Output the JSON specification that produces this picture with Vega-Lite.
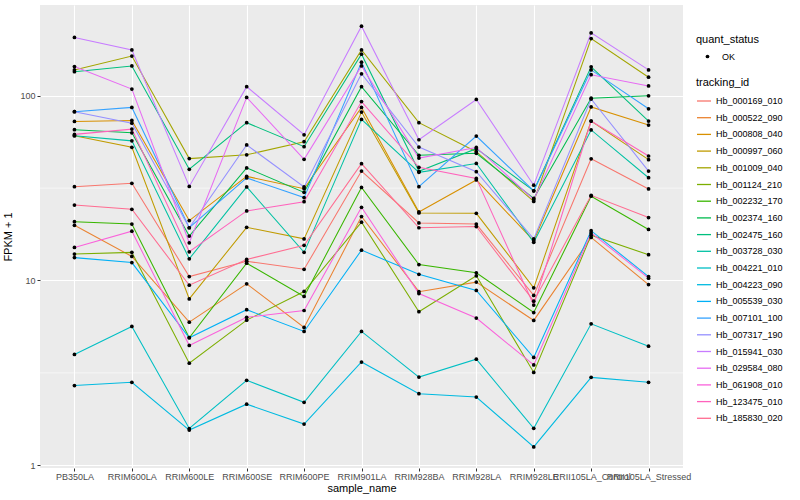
{
  "$schema": "https://vega.github.io/schema/vega-lite/v6.json",
  "width": 643,
  "height": 463,
  "autosize": {"type": "none"},
  "padding": {"left": 40, "top": 5, "right": 117, "bottom": 32},
  "background": "white",
  "datasets": {
    "minor": [{"y": 3.1623}, {"y": 31.623}],
    "expr": [
{"tracking_id":"Hb_000169_010","sample_name":"PB350LA","fpkm":32.2,"quant_status":"OK"},
{"tracking_id":"Hb_000169_010","sample_name":"RRIM600LA","fpkm":33.6,"quant_status":"OK"},
{"tracking_id":"Hb_000169_010","sample_name":"RRIM600LE","fpkm":10.5,"quant_status":"OK"},
{"tracking_id":"Hb_000169_010","sample_name":"RRIM600SE","fpkm":12.7,"quant_status":"OK"},
{"tracking_id":"Hb_000169_010","sample_name":"RRIM600PE","fpkm":11.5,"quant_status":"OK"},
{"tracking_id":"Hb_000169_010","sample_name":"RRIM901LA","fpkm":39.1,"quant_status":"OK"},
{"tracking_id":"Hb_000169_010","sample_name":"RRIM928BA","fpkm":20.5,"quant_status":"OK"},
{"tracking_id":"Hb_000169_010","sample_name":"RRIM928LA","fpkm":20.2,"quant_status":"OK"},
{"tracking_id":"Hb_000169_010","sample_name":"RRIM928LE","fpkm":8.3,"quant_status":"OK"},
{"tracking_id":"Hb_000169_010","sample_name":"RRII105LA_Control","fpkm":45.6,"quant_status":"OK"},
{"tracking_id":"Hb_000169_010","sample_name":"RRII105LA_Stressed","fpkm":31.3,"quant_status":"OK"},
{"tracking_id":"Hb_000522_090","sample_name":"PB350LA","fpkm":19.9,"quant_status":"OK"},
{"tracking_id":"Hb_000522_090","sample_name":"RRIM600LA","fpkm":13.5,"quant_status":"OK"},
{"tracking_id":"Hb_000522_090","sample_name":"RRIM600LE","fpkm":5.95,"quant_status":"OK"},
{"tracking_id":"Hb_000522_090","sample_name":"RRIM600SE","fpkm":9.6,"quant_status":"OK"},
{"tracking_id":"Hb_000522_090","sample_name":"RRIM600PE","fpkm":5.57,"quant_status":"OK"},
{"tracking_id":"Hb_000522_090","sample_name":"RRIM901LA","fpkm":22.2,"quant_status":"OK"},
{"tracking_id":"Hb_000522_090","sample_name":"RRIM928BA","fpkm":8.7,"quant_status":"OK"},
{"tracking_id":"Hb_000522_090","sample_name":"RRIM928LA","fpkm":9.8,"quant_status":"OK"},
{"tracking_id":"Hb_000522_090","sample_name":"RRIM928LE","fpkm":6.08,"quant_status":"OK"},
{"tracking_id":"Hb_000522_090","sample_name":"RRII105LA_Control","fpkm":17.1,"quant_status":"OK"},
{"tracking_id":"Hb_000522_090","sample_name":"RRII105LA_Stressed","fpkm":9.5,"quant_status":"OK"},
{"tracking_id":"Hb_000808_040","sample_name":"PB350LA","fpkm":72.6,"quant_status":"OK"},
{"tracking_id":"Hb_000808_040","sample_name":"RRIM600LA","fpkm":73.5,"quant_status":"OK"},
{"tracking_id":"Hb_000808_040","sample_name":"RRIM600LE","fpkm":21.1,"quant_status":"OK"},
{"tracking_id":"Hb_000808_040","sample_name":"RRIM600SE","fpkm":36.6,"quant_status":"OK"},
{"tracking_id":"Hb_000808_040","sample_name":"RRIM600PE","fpkm":31.4,"quant_status":"OK"},
{"tracking_id":"Hb_000808_040","sample_name":"RRIM901LA","fpkm":86.5,"quant_status":"OK"},
{"tracking_id":"Hb_000808_040","sample_name":"RRIM928BA","fpkm":23.5,"quant_status":"OK"},
{"tracking_id":"Hb_000808_040","sample_name":"RRIM928LA","fpkm":35,"quant_status":"OK"},
{"tracking_id":"Hb_000808_040","sample_name":"RRIM928LE","fpkm":16.4,"quant_status":"OK"},
{"tracking_id":"Hb_000808_040","sample_name":"RRII105LA_Control","fpkm":87,"quant_status":"OK"},
{"tracking_id":"Hb_000808_040","sample_name":"RRII105LA_Stressed","fpkm":69.4,"quant_status":"OK"},
{"tracking_id":"Hb_000997_060","sample_name":"PB350LA","fpkm":60.8,"quant_status":"OK"},
{"tracking_id":"Hb_000997_060","sample_name":"RRIM600LA","fpkm":52.6,"quant_status":"OK"},
{"tracking_id":"Hb_000997_060","sample_name":"RRIM600LE","fpkm":7.95,"quant_status":"OK"},
{"tracking_id":"Hb_000997_060","sample_name":"RRIM600SE","fpkm":19.4,"quant_status":"OK"},
{"tracking_id":"Hb_000997_060","sample_name":"RRIM600PE","fpkm":16.8,"quant_status":"OK"},
{"tracking_id":"Hb_000997_060","sample_name":"RRIM901LA","fpkm":81.6,"quant_status":"OK"},
{"tracking_id":"Hb_000997_060","sample_name":"RRIM928BA","fpkm":23.2,"quant_status":"OK"},
{"tracking_id":"Hb_000997_060","sample_name":"RRIM928LA","fpkm":23.1,"quant_status":"OK"},
{"tracking_id":"Hb_000997_060","sample_name":"RRIM928LE","fpkm":9.13,"quant_status":"OK"},
{"tracking_id":"Hb_000997_060","sample_name":"RRII105LA_Control","fpkm":73,"quant_status":"OK"},
{"tracking_id":"Hb_000997_060","sample_name":"RRII105LA_Stressed","fpkm":45.1,"quant_status":"OK"},
{"tracking_id":"Hb_001009_040","sample_name":"PB350LA","fpkm":138,"quant_status":"OK"},
{"tracking_id":"Hb_001009_040","sample_name":"RRIM600LA","fpkm":164,"quant_status":"OK"},
{"tracking_id":"Hb_001009_040","sample_name":"RRIM600LE","fpkm":45.7,"quant_status":"OK"},
{"tracking_id":"Hb_001009_040","sample_name":"RRIM600SE","fpkm":47.9,"quant_status":"OK"},
{"tracking_id":"Hb_001009_040","sample_name":"RRIM600PE","fpkm":56.4,"quant_status":"OK"},
{"tracking_id":"Hb_001009_040","sample_name":"RRIM901LA","fpkm":177,"quant_status":"OK"},
{"tracking_id":"Hb_001009_040","sample_name":"RRIM928BA","fpkm":71.5,"quant_status":"OK"},
{"tracking_id":"Hb_001009_040","sample_name":"RRIM928LA","fpkm":49.8,"quant_status":"OK"},
{"tracking_id":"Hb_001009_040","sample_name":"RRIM928LE","fpkm":26.8,"quant_status":"OK"},
{"tracking_id":"Hb_001009_040","sample_name":"RRII105LA_Control","fpkm":204,"quant_status":"OK"},
{"tracking_id":"Hb_001009_040","sample_name":"RRII105LA_Stressed","fpkm":126,"quant_status":"OK"},
{"tracking_id":"Hb_001124_210","sample_name":"PB350LA","fpkm":13.9,"quant_status":"OK"},
{"tracking_id":"Hb_001124_210","sample_name":"RRIM600LA","fpkm":14.2,"quant_status":"OK"},
{"tracking_id":"Hb_001124_210","sample_name":"RRIM600LE","fpkm":3.57,"quant_status":"OK"},
{"tracking_id":"Hb_001124_210","sample_name":"RRIM600SE","fpkm":6.1,"quant_status":"OK"},
{"tracking_id":"Hb_001124_210","sample_name":"RRIM600PE","fpkm":8.72,"quant_status":"OK"},
{"tracking_id":"Hb_001124_210","sample_name":"RRIM901LA","fpkm":20.7,"quant_status":"OK"},
{"tracking_id":"Hb_001124_210","sample_name":"RRIM928BA","fpkm":6.78,"quant_status":"OK"},
{"tracking_id":"Hb_001124_210","sample_name":"RRIM928LA","fpkm":10.6,"quant_status":"OK"},
{"tracking_id":"Hb_001124_210","sample_name":"RRIM928LE","fpkm":3.18,"quant_status":"OK"},
{"tracking_id":"Hb_001124_210","sample_name":"RRII105LA_Control","fpkm":17.6,"quant_status":"OK"},
{"tracking_id":"Hb_001124_210","sample_name":"RRII105LA_Stressed","fpkm":13.8,"quant_status":"OK"},
{"tracking_id":"Hb_002232_170","sample_name":"PB350LA","fpkm":20.8,"quant_status":"OK"},
{"tracking_id":"Hb_002232_170","sample_name":"RRIM600LA","fpkm":20.2,"quant_status":"OK"},
{"tracking_id":"Hb_002232_170","sample_name":"RRIM600LE","fpkm":4.9,"quant_status":"OK"},
{"tracking_id":"Hb_002232_170","sample_name":"RRIM600SE","fpkm":12.4,"quant_status":"OK"},
{"tracking_id":"Hb_002232_170","sample_name":"RRIM600PE","fpkm":8.2,"quant_status":"OK"},
{"tracking_id":"Hb_002232_170","sample_name":"RRIM901LA","fpkm":31.9,"quant_status":"OK"},
{"tracking_id":"Hb_002232_170","sample_name":"RRIM928BA","fpkm":12.2,"quant_status":"OK"},
{"tracking_id":"Hb_002232_170","sample_name":"RRIM928LA","fpkm":11.0,"quant_status":"OK"},
{"tracking_id":"Hb_002232_170","sample_name":"RRIM928LE","fpkm":6.71,"quant_status":"OK"},
{"tracking_id":"Hb_002232_170","sample_name":"RRII105LA_Control","fpkm":28.6,"quant_status":"OK"},
{"tracking_id":"Hb_002232_170","sample_name":"RRII105LA_Stressed","fpkm":18.9,"quant_status":"OK"},
{"tracking_id":"Hb_002374_160","sample_name":"PB350LA","fpkm":65.5,"quant_status":"OK"},
{"tracking_id":"Hb_002374_160","sample_name":"RRIM600LA","fpkm":63,"quant_status":"OK"},
{"tracking_id":"Hb_002374_160","sample_name":"RRIM600LE","fpkm":17.4,"quant_status":"OK"},
{"tracking_id":"Hb_002374_160","sample_name":"RRIM600SE","fpkm":40.7,"quant_status":"OK"},
{"tracking_id":"Hb_002374_160","sample_name":"RRIM600PE","fpkm":30,"quant_status":"OK"},
{"tracking_id":"Hb_002374_160","sample_name":"RRIM901LA","fpkm":112,"quant_status":"OK"},
{"tracking_id":"Hb_002374_160","sample_name":"RRIM928BA","fpkm":47.6,"quant_status":"OK"},
{"tracking_id":"Hb_002374_160","sample_name":"RRIM928LA","fpkm":48.8,"quant_status":"OK"},
{"tracking_id":"Hb_002374_160","sample_name":"RRIM928LE","fpkm":27.8,"quant_status":"OK"},
{"tracking_id":"Hb_002374_160","sample_name":"RRII105LA_Control","fpkm":97,"quant_status":"OK"},
{"tracking_id":"Hb_002374_160","sample_name":"RRII105LA_Stressed","fpkm":100,"quant_status":"OK"},
{"tracking_id":"Hb_002475_160","sample_name":"PB350LA","fpkm":135,"quant_status":"OK"},
{"tracking_id":"Hb_002475_160","sample_name":"RRIM600LA","fpkm":145,"quant_status":"OK"},
{"tracking_id":"Hb_002475_160","sample_name":"RRIM600LE","fpkm":40,"quant_status":"OK"},
{"tracking_id":"Hb_002475_160","sample_name":"RRIM600SE","fpkm":71.5,"quant_status":"OK"},
{"tracking_id":"Hb_002475_160","sample_name":"RRIM600PE","fpkm":53,"quant_status":"OK"},
{"tracking_id":"Hb_002475_160","sample_name":"RRIM901LA","fpkm":168,"quant_status":"OK"},
{"tracking_id":"Hb_002475_160","sample_name":"RRIM928BA","fpkm":39,"quant_status":"OK"},
{"tracking_id":"Hb_002475_160","sample_name":"RRIM928LA","fpkm":51.7,"quant_status":"OK"},
{"tracking_id":"Hb_002475_160","sample_name":"RRIM928LE","fpkm":30.6,"quant_status":"OK"},
{"tracking_id":"Hb_002475_160","sample_name":"RRII105LA_Control","fpkm":143.5,"quant_status":"OK"},
{"tracking_id":"Hb_002475_160","sample_name":"RRII105LA_Stressed","fpkm":73,"quant_status":"OK"},
{"tracking_id":"Hb_003728_030","sample_name":"PB350LA","fpkm":60.8,"quant_status":"OK"},
{"tracking_id":"Hb_003728_030","sample_name":"RRIM600LA","fpkm":57,"quant_status":"OK"},
{"tracking_id":"Hb_003728_030","sample_name":"RRIM600LE","fpkm":13.1,"quant_status":"OK"},
{"tracking_id":"Hb_003728_030","sample_name":"RRIM600SE","fpkm":32.1,"quant_status":"OK"},
{"tracking_id":"Hb_003728_030","sample_name":"RRIM600PE","fpkm":14.2,"quant_status":"OK"},
{"tracking_id":"Hb_003728_030","sample_name":"RRIM901LA","fpkm":74.5,"quant_status":"OK"},
{"tracking_id":"Hb_003728_030","sample_name":"RRIM928BA","fpkm":38.5,"quant_status":"OK"},
{"tracking_id":"Hb_003728_030","sample_name":"RRIM928LA","fpkm":43,"quant_status":"OK"},
{"tracking_id":"Hb_003728_030","sample_name":"RRIM928LE","fpkm":16.1,"quant_status":"OK"},
{"tracking_id":"Hb_003728_030","sample_name":"RRII105LA_Control","fpkm":65.3,"quant_status":"OK"},
{"tracking_id":"Hb_003728_030","sample_name":"RRII105LA_Stressed","fpkm":36,"quant_status":"OK"},
{"tracking_id":"Hb_004221_010","sample_name":"PB350LA","fpkm":3.98,"quant_status":"OK"},
{"tracking_id":"Hb_004221_010","sample_name":"RRIM600LA","fpkm":5.64,"quant_status":"OK"},
{"tracking_id":"Hb_004221_010","sample_name":"RRIM600LE","fpkm":1.58,"quant_status":"OK"},
{"tracking_id":"Hb_004221_010","sample_name":"RRIM600SE","fpkm":2.88,"quant_status":"OK"},
{"tracking_id":"Hb_004221_010","sample_name":"RRIM600PE","fpkm":2.19,"quant_status":"OK"},
{"tracking_id":"Hb_004221_010","sample_name":"RRIM901LA","fpkm":5.3,"quant_status":"OK"},
{"tracking_id":"Hb_004221_010","sample_name":"RRIM928BA","fpkm":3.0,"quant_status":"OK"},
{"tracking_id":"Hb_004221_010","sample_name":"RRIM928LA","fpkm":3.75,"quant_status":"OK"},
{"tracking_id":"Hb_004221_010","sample_name":"RRIM928LE","fpkm":1.585,"quant_status":"OK"},
{"tracking_id":"Hb_004221_010","sample_name":"RRII105LA_Control","fpkm":5.83,"quant_status":"OK"},
{"tracking_id":"Hb_004221_010","sample_name":"RRII105LA_Stressed","fpkm":4.41,"quant_status":"OK"},
{"tracking_id":"Hb_004223_090","sample_name":"PB350LA","fpkm":2.7,"quant_status":"OK"},
{"tracking_id":"Hb_004223_090","sample_name":"RRIM600LA","fpkm":2.81,"quant_status":"OK"},
{"tracking_id":"Hb_004223_090","sample_name":"RRIM600LE","fpkm":1.55,"quant_status":"OK"},
{"tracking_id":"Hb_004223_090","sample_name":"RRIM600SE","fpkm":2.14,"quant_status":"OK"},
{"tracking_id":"Hb_004223_090","sample_name":"RRIM600PE","fpkm":1.67,"quant_status":"OK"},
{"tracking_id":"Hb_004223_090","sample_name":"RRIM901LA","fpkm":3.62,"quant_status":"OK"},
{"tracking_id":"Hb_004223_090","sample_name":"RRIM928BA","fpkm":2.44,"quant_status":"OK"},
{"tracking_id":"Hb_004223_090","sample_name":"RRIM928LA","fpkm":2.34,"quant_status":"OK"},
{"tracking_id":"Hb_004223_090","sample_name":"RRIM928LE","fpkm":1.256,"quant_status":"OK"},
{"tracking_id":"Hb_004223_090","sample_name":"RRII105LA_Control","fpkm":2.99,"quant_status":"OK"},
{"tracking_id":"Hb_004223_090","sample_name":"RRII105LA_Stressed","fpkm":2.81,"quant_status":"OK"},
{"tracking_id":"Hb_005539_030","sample_name":"PB350LA","fpkm":13.3,"quant_status":"OK"},
{"tracking_id":"Hb_005539_030","sample_name":"RRIM600LA","fpkm":12.5,"quant_status":"OK"},
{"tracking_id":"Hb_005539_030","sample_name":"RRIM600LE","fpkm":4.9,"quant_status":"OK"},
{"tracking_id":"Hb_005539_030","sample_name":"RRIM600SE","fpkm":6.95,"quant_status":"OK"},
{"tracking_id":"Hb_005539_030","sample_name":"RRIM600PE","fpkm":5.3,"quant_status":"OK"},
{"tracking_id":"Hb_005539_030","sample_name":"RRIM901LA","fpkm":14.6,"quant_status":"OK"},
{"tracking_id":"Hb_005539_030","sample_name":"RRIM928BA","fpkm":10.8,"quant_status":"OK"},
{"tracking_id":"Hb_005539_030","sample_name":"RRIM928LA","fpkm":8.83,"quant_status":"OK"},
{"tracking_id":"Hb_005539_030","sample_name":"RRIM928LE","fpkm":3.83,"quant_status":"OK"},
{"tracking_id":"Hb_005539_030","sample_name":"RRII105LA_Control","fpkm":18.6,"quant_status":"OK"},
{"tracking_id":"Hb_005539_030","sample_name":"RRII105LA_Stressed","fpkm":10.5,"quant_status":"OK"},
{"tracking_id":"Hb_007101_100","sample_name":"PB350LA","fpkm":82,"quant_status":"OK"},
{"tracking_id":"Hb_007101_100","sample_name":"RRIM600LA","fpkm":86.5,"quant_status":"OK"},
{"tracking_id":"Hb_007101_100","sample_name":"RRIM600LE","fpkm":19.3,"quant_status":"OK"},
{"tracking_id":"Hb_007101_100","sample_name":"RRIM600SE","fpkm":35.9,"quant_status":"OK"},
{"tracking_id":"Hb_007101_100","sample_name":"RRIM600PE","fpkm":28.1,"quant_status":"OK"},
{"tracking_id":"Hb_007101_100","sample_name":"RRIM901LA","fpkm":152,"quant_status":"OK"},
{"tracking_id":"Hb_007101_100","sample_name":"RRIM928BA","fpkm":32.2,"quant_status":"OK"},
{"tracking_id":"Hb_007101_100","sample_name":"RRIM928LA","fpkm":60.5,"quant_status":"OK"},
{"tracking_id":"Hb_007101_100","sample_name":"RRIM928LE","fpkm":30.6,"quant_status":"OK"},
{"tracking_id":"Hb_007101_100","sample_name":"RRII105LA_Control","fpkm":138,"quant_status":"OK"},
{"tracking_id":"Hb_007101_100","sample_name":"RRII105LA_Stressed","fpkm":85,"quant_status":"OK"},
{"tracking_id":"Hb_007317_190","sample_name":"PB350LA","fpkm":82,"quant_status":"OK"},
{"tracking_id":"Hb_007317_190","sample_name":"RRIM600LA","fpkm":71,"quant_status":"OK"},
{"tracking_id":"Hb_007317_190","sample_name":"RRIM600LE","fpkm":19.3,"quant_status":"OK"},
{"tracking_id":"Hb_007317_190","sample_name":"RRIM600SE","fpkm":54.2,"quant_status":"OK"},
{"tracking_id":"Hb_007317_190","sample_name":"RRIM600PE","fpkm":32.1,"quant_status":"OK"},
{"tracking_id":"Hb_007317_190","sample_name":"RRIM901LA","fpkm":131.5,"quant_status":"OK"},
{"tracking_id":"Hb_007317_190","sample_name":"RRIM928BA","fpkm":52.8,"quant_status":"OK"},
{"tracking_id":"Hb_007317_190","sample_name":"RRIM928LA","fpkm":38.8,"quant_status":"OK"},
{"tracking_id":"Hb_007317_190","sample_name":"RRIM928LE","fpkm":16.8,"quant_status":"OK"},
{"tracking_id":"Hb_007317_190","sample_name":"RRII105LA_Control","fpkm":96,"quant_status":"OK"},
{"tracking_id":"Hb_007317_190","sample_name":"RRII105LA_Stressed","fpkm":39.1,"quant_status":"OK"},
{"tracking_id":"Hb_015941_030","sample_name":"PB350LA","fpkm":207,"quant_status":"OK"},
{"tracking_id":"Hb_015941_030","sample_name":"RRIM600LA","fpkm":177,"quant_status":"OK"},
{"tracking_id":"Hb_015941_030","sample_name":"RRIM600LE","fpkm":32.3,"quant_status":"OK"},
{"tracking_id":"Hb_015941_030","sample_name":"RRIM600SE","fpkm":112,"quant_status":"OK"},
{"tracking_id":"Hb_015941_030","sample_name":"RRIM600PE","fpkm":61.5,"quant_status":"OK"},
{"tracking_id":"Hb_015941_030","sample_name":"RRIM901LA","fpkm":238,"quant_status":"OK"},
{"tracking_id":"Hb_015941_030","sample_name":"RRIM928BA","fpkm":57.8,"quant_status":"OK"},
{"tracking_id":"Hb_015941_030","sample_name":"RRIM928LA","fpkm":95.5,"quant_status":"OK"},
{"tracking_id":"Hb_015941_030","sample_name":"RRIM928LE","fpkm":32.8,"quant_status":"OK"},
{"tracking_id":"Hb_015941_030","sample_name":"RRII105LA_Control","fpkm":219,"quant_status":"OK"},
{"tracking_id":"Hb_015941_030","sample_name":"RRII105LA_Stressed","fpkm":138,"quant_status":"OK"},
{"tracking_id":"Hb_029584_080","sample_name":"PB350LA","fpkm":144,"quant_status":"OK"},
{"tracking_id":"Hb_029584_080","sample_name":"RRIM600LA","fpkm":108.7,"quant_status":"OK"},
{"tracking_id":"Hb_029584_080","sample_name":"RRIM600LE","fpkm":16,"quant_status":"OK"},
{"tracking_id":"Hb_029584_080","sample_name":"RRIM600SE","fpkm":98,"quant_status":"OK"},
{"tracking_id":"Hb_029584_080","sample_name":"RRIM600PE","fpkm":45.3,"quant_status":"OK"},
{"tracking_id":"Hb_029584_080","sample_name":"RRIM901LA","fpkm":145,"quant_status":"OK"},
{"tracking_id":"Hb_029584_080","sample_name":"RRIM928BA","fpkm":46,"quant_status":"OK"},
{"tracking_id":"Hb_029584_080","sample_name":"RRIM928LA","fpkm":52.5,"quant_status":"OK"},
{"tracking_id":"Hb_029584_080","sample_name":"RRIM928LE","fpkm":27.4,"quant_status":"OK"},
{"tracking_id":"Hb_029584_080","sample_name":"RRII105LA_Control","fpkm":130,"quant_status":"OK"},
{"tracking_id":"Hb_029584_080","sample_name":"RRII105LA_Stressed","fpkm":113,"quant_status":"OK"},
{"tracking_id":"Hb_061908_010","sample_name":"PB350LA","fpkm":15.1,"quant_status":"OK"},
{"tracking_id":"Hb_061908_010","sample_name":"RRIM600LA","fpkm":18.5,"quant_status":"OK"},
{"tracking_id":"Hb_061908_010","sample_name":"RRIM600LE","fpkm":4.45,"quant_status":"OK"},
{"tracking_id":"Hb_061908_010","sample_name":"RRIM600SE","fpkm":6.32,"quant_status":"OK"},
{"tracking_id":"Hb_061908_010","sample_name":"RRIM600PE","fpkm":6.88,"quant_status":"OK"},
{"tracking_id":"Hb_061908_010","sample_name":"RRIM901LA","fpkm":24.9,"quant_status":"OK"},
{"tracking_id":"Hb_061908_010","sample_name":"RRIM928BA","fpkm":8.5,"quant_status":"OK"},
{"tracking_id":"Hb_061908_010","sample_name":"RRIM928LA","fpkm":6.26,"quant_status":"OK"},
{"tracking_id":"Hb_061908_010","sample_name":"RRIM928LE","fpkm":3.49,"quant_status":"OK"},
{"tracking_id":"Hb_061908_010","sample_name":"RRII105LA_Control","fpkm":18.1,"quant_status":"OK"},
{"tracking_id":"Hb_061908_010","sample_name":"RRII105LA_Stressed","fpkm":10.3,"quant_status":"OK"},
{"tracking_id":"Hb_123475_010","sample_name":"PB350LA","fpkm":61.8,"quant_status":"OK"},
{"tracking_id":"Hb_123475_010","sample_name":"RRIM600LA","fpkm":66,"quant_status":"OK"},
{"tracking_id":"Hb_123475_010","sample_name":"RRIM600LE","fpkm":14.3,"quant_status":"OK"},
{"tracking_id":"Hb_123475_010","sample_name":"RRIM600SE","fpkm":23.8,"quant_status":"OK"},
{"tracking_id":"Hb_123475_010","sample_name":"RRIM600PE","fpkm":26.7,"quant_status":"OK"},
{"tracking_id":"Hb_123475_010","sample_name":"RRIM901LA","fpkm":93,"quant_status":"OK"},
{"tracking_id":"Hb_123475_010","sample_name":"RRIM928BA","fpkm":41,"quant_status":"OK"},
{"tracking_id":"Hb_123475_010","sample_name":"RRIM928LA","fpkm":35.7,"quant_status":"OK"},
{"tracking_id":"Hb_123475_010","sample_name":"RRIM928LE","fpkm":7.36,"quant_status":"OK"},
{"tracking_id":"Hb_123475_010","sample_name":"RRII105LA_Control","fpkm":73,"quant_status":"OK"},
{"tracking_id":"Hb_123475_010","sample_name":"RRII105LA_Stressed","fpkm":47.2,"quant_status":"OK"},
{"tracking_id":"Hb_185830_020","sample_name":"PB350LA","fpkm":25.6,"quant_status":"OK"},
{"tracking_id":"Hb_185830_020","sample_name":"RRIM600LA","fpkm":24.3,"quant_status":"OK"},
{"tracking_id":"Hb_185830_020","sample_name":"RRIM600LE","fpkm":9.43,"quant_status":"OK"},
{"tracking_id":"Hb_185830_020","sample_name":"RRIM600SE","fpkm":13.0,"quant_status":"OK"},
{"tracking_id":"Hb_185830_020","sample_name":"RRIM600PE","fpkm":15.5,"quant_status":"OK"},
{"tracking_id":"Hb_185830_020","sample_name":"RRIM901LA","fpkm":42.9,"quant_status":"OK"},
{"tracking_id":"Hb_185830_020","sample_name":"RRIM928BA","fpkm":19.3,"quant_status":"OK"},
{"tracking_id":"Hb_185830_020","sample_name":"RRIM928LA","fpkm":19.6,"quant_status":"OK"},
{"tracking_id":"Hb_185830_020","sample_name":"RRIM928LE","fpkm":7.73,"quant_status":"OK"},
{"tracking_id":"Hb_185830_020","sample_name":"RRII105LA_Control","fpkm":28.9,"quant_status":"OK"},
{"tracking_id":"Hb_185830_020","sample_name":"RRII105LA_Stressed","fpkm":21.9,"quant_status":"OK"}
    ]
  },
  "layer": [
    {
      "data": {"name": "minor"},
      "mark": {"type": "rule", "color": "white", "strokeWidth": 0.55},
      "encoding": {"y": {"field": "y", "type": "quantitative", "scale": {"type": "log", "domain": [0.966, 310], "nice": false, "zero": false}}}
    },
    {
      "data": {"name": "expr"},
      "mark": {"type": "line", "strokeWidth": 1.05},
      "encoding": {
        "x": {"field": "sample_name", "type": "nominal", "sort": null,
              "scale": {"type": "point", "padding": 0.6},
              "axis": {"title": "sample_name", "labelAngle": 0, "labelOverlap": false, "labelPadding": 1.5, "titlePadding": 1, "grid": true}},
        "y": {"field": "fpkm", "type": "quantitative",
              "scale": {"type": "log", "domain": [0.966, 310], "nice": false, "zero": false},
              "axis": {"title": "FPKM + 1", "values": [1, 10, 100], "format": "d", "labelPadding": 2, "titlePadding": 6}},
        "color": {"field": "tracking_id", "type": "nominal",
                  "scale": {"range": ["#F8766D","#EA8331","#D89000","#C09B00","#A3A500","#7CAE00","#39B600","#00BB4E","#00BF7D","#00C1A3","#00BFC4","#00BAE0","#00B0F6","#35A2FF","#9590FF","#C77CFF","#E76BF3","#FA62DB","#FF62BC","#FF6C91"]},
                  "legend": {"title": "tracking_id", "orient": "none", "legendX": 656, "legendY": 72, "symbolType": "stroke", "symbolSize": 196, "symbolStrokeWidth": 1.3, "rowPadding": 3.7, "titlePadding": 5}}
      }
    },
    {
      "data": {"name": "expr"},
      "mark": {"type": "point", "filled": true, "color": "black", "size": 14, "opacity": 1},
      "encoding": {
        "x": {"field": "sample_name", "type": "nominal", "sort": null},
        "y": {"field": "fpkm", "type": "quantitative"},
        "shape": {"field": "quant_status", "type": "nominal", "scale": {"range": ["circle"]},
                  "legend": {"title": "quant_status", "orient": "none", "legendX": 656, "legendY": 29, "titlePadding": 7, "symbolSize": 14, "symbolOffset": 7, "labelOffset": 10, "symbolFillColor": "black", "symbolStrokeColor": "black"}}
      }
    }
  ],
  "config": {
    "view": {"fill": "#EBEBEB", "stroke": null},
    "axis": {"domain": false, "gridColor": "white", "gridWidth": 1.1, "gridOpacity": 1, "tickColor": "#333333", "tickSize": 3, "labelColor": "#4D4D4D", "labelFontSize": 9, "labelFont": "Liberation Sans", "titleFont": "Liberation Sans", "titleFontSize": 11, "titleFontWeight": "normal", "titleColor": "black"},
    "legend": {"titleFont": "Liberation Sans", "titleFontSize": 11, "titleFontWeight": "normal", "titleColor": "black", "labelFont": "Liberation Sans", "labelFontSize": 9, "labelColor": "black"}
  }
}
